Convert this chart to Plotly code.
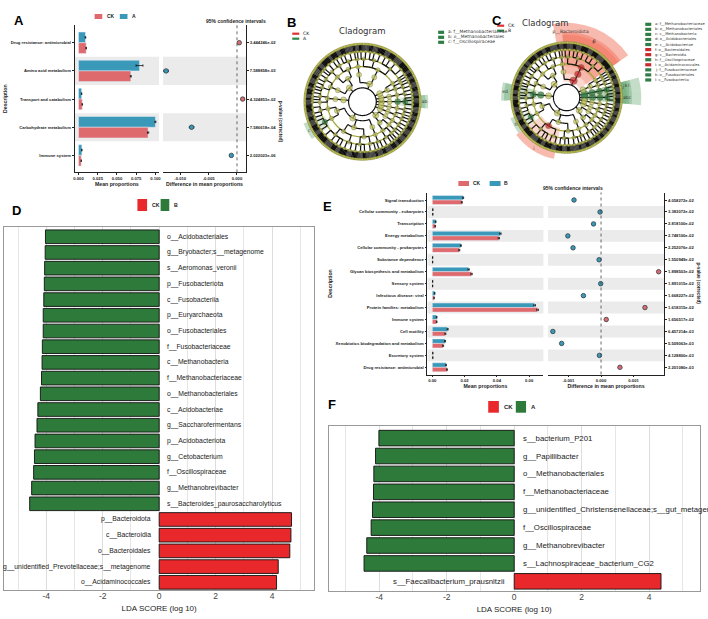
import numpy as np
import plotly.graph_objects as go

W, H = 708, 619

RED_S, BLUE_S = "#DE6A6E", "#3A99B8"      # STAMP colours
RED_L, GREEN_L = "#E8282B", "#2E7A3A"     # LEfSe bar colours

# ---------------- A: STAMP, CK vs A ----------------
a_desc = ["Drug resistance: antimicrobial", "Amino acid metabolism", "Transport and catabolism",
          "Carbohydrate metabolism", "Immune system"]
a_ck = [0.0099, 0.0680, 0.0048, 0.0905, 0.0035]
a_a = [0.0090, 0.0793, 0.0040, 0.1000, 0.0043]
a_ck_err = [0.0004, 0.0006, 0.0003, 0.0008, 0.0002]
a_a_err = [0.0004, 0.0045, 0.0003, 0.0006, 0.0003]
a_diff = [0.0004, -0.0125, 0.0010, -0.0080, -0.0010]
a_diff_ci = [0.0002, 0.0004, 0.0002, 0.0004, 0.0002]
a_pval = ["3.444246e-02", "7.588858e-03", "4.324853e-02", "7.586618e-04", "2.022023e-06"]

# ---------------- E: STAMP, CK vs B ----------------
e_desc = ["Signal transduction", "Cellular community - eukaryotes", "Transcription", "Energy metabolism",
          "Cellular community - prokaryotes", "Substance dependence", "Glycan biosynthesis and metabolism",
          "Sensory system", "Infectious disease: viral", "Protein families: metabolism", "Immune system",
          "Cell motility", "Xenobiotics biodegradation and metabolism", "Excretory system",
          "Drug resistance: antimicrobial"]
e_ck = [0.0183, 0.0003, 0.0018, 0.0412, 0.0167, 0.0002, 0.0243, 0.0002, 0.0011, 0.0652,
        0.0027, 0.0081, 0.0067, 0.0003, 0.0091]
e_b = [0.0191, 0.0003, 0.0021, 0.0422, 0.0177, 0.0002, 0.0225, 0.0002, 0.0015, 0.0634,
       0.0027, 0.0095, 0.0079, 0.0003, 0.0085]
e_err = [0.0003, 0.0001, 0.0002, 0.0004, 0.0003, 0.0001, 0.0004, 0.0001, 0.0001, 0.0005,
         0.0002, 0.0003, 0.0003, 0.0001, 0.0002]
e_diff = [-0.00083, -0.00003, -0.00023, -0.00102, -0.00086, -0.00006, 0.00177, -0.00001, -0.00054,
          0.00135, 0.00016, -0.00148, -0.00121, -0.00005, 0.00058]
e_diff_ci = [0.00003, 0.00002, 0.00002, 0.00003, 0.00003, 0.00002, 0.00003, 0.00002, 0.00002,
             0.00003, 0.00002, 0.00003, 0.00003, 0.00002, 0.00002]
e_pval = ["4.058272e-02", "3.383072e-02", "2.818100e-02", "2.748100e-02", "2.252076e-02",
          "1.550949e-02", "1.898503e-02", "1.891015e-02", "1.668227e-02", "1.618315e-02",
          "1.656517e-02", "6.457214e-03", "5.509063e-03", "4.128800e-03", "2.201080e-03"]

# ---------------- D: LEfSe CK vs B ----------------
d_taxa = ["o__Acidobacteriales", "g__Bryobacter;s__metagenome", "s__Aeromonas_veronii",
          "p__Fusobacteriota", "c__Fusobacteriia", "p__Euryarchaeota", "o__Fusobacteriales",
          "f__Fusobacteriaceae", "c__Methanobacteria", "f__Methanobacteriaceae",
          "o__Methanobacteriales", "c__Acidobacteriae", "g__Saccharofermentans",
          "p__Acidobacteriota", "g__Cetobacterium", "f__Oscillospiraceae", "g__Methanobrevibacter",
          "s__Bacteroides_paurosaccharolyticus", "p__Bacteroidota", "c__Bacteroidia",
          "o__Bacteroidales", "g__unidentified_Prevotellaceae;s__metagenome", "o__Acidaminococcales"]
d_lda = [-4.03, -4.04, -4.06, -4.07, -4.09, -4.11, -4.11, -4.14, -4.15, -4.17, -4.21, -4.30,
         -4.33, -4.40, -4.42, -4.45, -4.52, -4.59, 4.69, 4.67, 4.63, 4.22, 4.16]

# ---------------- F: LEfSe CK vs A ----------------
f_taxa = ["s__bacterium_P201", "g__Papillibacter", "o__Methanobacteriales", "f__Methanobacteriaceae",
          "g__unidentified_Christensenellaceae;s__gut_metagenome", "f__Oscillospiraceae",
          "g__Methanobrevibacter", "s__Lachnospiraceae_bacterium_CG2", "s__Faecalibacterium_prausnitzii"]
f_lda = [-4.01, -4.11, -4.16, -4.17, -4.20, -4.24, -4.37, -4.45, 4.35]

# ---------------- B / C: cladogram tree (phylum > class > order > family > genus leaf counts) ----
tree = [
    ("Euryarchaeota", [[[[4, 3, 2]]]]),
    ("Fusobacteriota", [[[[4, 3]]]]),
    ("Desulfobacterota", [[[[4, 3], [2]], [[3, 2]]]]),
    ("Bacteroidota", [[[[8, 6, 5, 4], [6, 4, 3], [5, 3]]], [[[3, 2]]]]),
    ("Proteobacteria", [[[[6, 4, 3], [5, 2]], [[7, 3, 2]]], [[[5, 3], [4, 3, 2]]]]),
    ("Acidobacteriota", [[[[4, 3, 2], [3]]]]),
    ("Firmicutes", [[[[6, 4, 3]], [[4, 5, 3]]], [[[8, 6, 4, 3], [6, 4]], [[5, 4, 3], [7, 2]]], [[[4, 3]]]]),
    ("Actinobacteriota", [[[[5, 4, 2], [3]], [[4, 2]]], [[[4, 3]]]]),
    ("Spirochaetota", [[[[4, 2], [3]]]]),
    ("Verrucomicrobiota", [[[[3, 4]]]]),
]
b_marks = [(("Euryarchaeota", 0, 0, 0), "f__Methanobacteriaceae", "A"),
           (("Euryarchaeota", 0, 0), "o__Methanobacteriales", "A"),
           (("Firmicutes", 0, 1, 0), "f__Oscillospiraceae", "A")]
c_marks = [(("Euryarchaeota", 0, 0, 0), "f__Methanobacteriaceae", "B"),
           (("Euryarchaeota", 0, 0), "o__Methanobacteriales", "B"),
           (("Euryarchaeota", 0), "c__Methanobacteria", "B"),
           (("Acidobacteriota", 0, 0), "o__Acidobacteriales", "B"),
           (("Acidobacteriota", 0), "c__Acidobacteriae", "B"),
           (("Bacteroidota", 0, 0), "o__Bacteroidales", "CK"),
           (("Bacteroidota", 0), "c__Bacteroidia", "CK"),
           (("Firmicutes", 0, 1, 0), "f__Oscillospiraceae", "B"),
           (("Firmicutes", 1, 0), "o__Acidaminococcales", "CK"),
           (("Fusobacteriota", 0, 0, 0), "f__Fusobacteriaceae", "B"),
           (("Fusobacteriota", 0, 0), "o__Fusobacteriales", "B"),
           (("Fusobacteriota", 0), "c__Fusobacteriia", "B"),
           (("Bacteroidota",), "p__Bacteroidota", "CK"),
           (("Euryarchaeota",), "p__Euryarchaeota", "B"),
           (("Fusobacteriota",), "p__Fusobacteriota", "B")]

STAMP_FONT = "Liberation Sans"
LFONT = "Liberation Sans"


def px(x):
    return x / W


def py(y):
    return 1 - y / H


fig = go.Figure()
shapes, annos = [], []


def stamp_panel(desc, g1, g1_err, g2, g2_err, diff, ci, g2_name, axn):
    xa, ya, xb, yb = axn
    fig.add_trace(go.Bar(y=desc, x=g2, orientation="h", marker_color=BLUE_S, name=g2_name,
                         error_x=dict(type="data", array=g2_err, thickness=0.7, width=1.2, color="black"),
                         xaxis=xa, yaxis=ya, showlegend=False))
    fig.add_trace(go.Bar(y=desc, x=g1, orientation="h", marker_color=RED_S, name="CK",
                         error_x=dict(type="data", array=g1_err, thickness=0.7, width=1.2, color="black"),
                         xaxis=xa, yaxis=ya, showlegend=False))
    cols = [RED_S if d > 0 else BLUE_S for d in diff]
    fig.add_trace(go.Scatter(x=diff, y=desc, mode="markers", xaxis=xb, yaxis=yb, showlegend=False,
                             marker=dict(color=cols, size=4.5, line=dict(color="#2f3f45", width=0.8)),
                             error_x=dict(type="data", array=ci, thickness=0.7, width=1.2, color="black")))
    for i in range(len(desc)):
        if i % 2 == 1:
            for ax, ay in ((xa, ya), (xb, yb)):
                shapes.append(dict(type="rect", xref=ax + " domain", yref=ay, x0=0, x1=1,
                                   y0=i - 0.5, y1=i + 0.5, fillcolor="#EBEBEB", line_width=0,
                                   layer="below"))
    shapes.append(dict(type="line", xref=xb, yref=yb + " domain", x0=0, x1=0, y0=0, y1=1,
                       line=dict(color="#444", width=0.8, dash="dot")))


stamp_panel(a_desc, a_ck, a_ck_err, a_a, a_a_err, a_diff, a_diff_ci, "A", ("x", "y", "x2", "y2"))
stamp_panel(e_desc, e_ck, e_err, e_b, e_err, e_diff, e_diff_ci, "B", ("x3", "y3", "x4", "y4"))


def lda_panel(taxa, lda, xa, ya, size):
    cols = [RED_L if v > 0 else GREEN_L for v in lda]
    fig.add_trace(go.Bar(y=taxa, x=lda, orientation="h", width=0.87, xaxis=xa, yaxis=ya,
                         marker=dict(color=cols, line=dict(color="#111", width=0.9)), showlegend=False))
    for i, (t, v) in enumerate(zip(taxa, lda)):
        annos.append(dict(text=t, xref=xa, yref=ya, x=0.21 if v < 0 else -0.21, y=i,
                          xanchor="left" if v < 0 else "right", yanchor="middle", showarrow=False,
                          font=dict(family=LFONT, size=size, color="#222")))


lda_panel(d_taxa, d_lda, "x5", "y5", 6.8)
lda_panel(f_taxa, f_lda, "x6", "y6", 7.8)

# ---------------- cladograms ----------------
LEVEL_R = [0.33, 0.47, 0.61, 0.74, 0.87]
R_ROOT, R_OUT = 0.24, 1.0
START = -6.0
OLIVE_NODE, OLIVE_RING = "#C6CA5E", "#A4A63A"
GRP_COL = {"CK": "#C8282E", "A": "#2F7D45", "B": "#2F7D45"}
GRP_IN = {"CK": "rgba(242,118,95,0.30)", "A": "rgba(100,165,110,0.22)", "B": "rgba(100,165,110,0.22)"}
GRP_OUT = {"CK": "rgba(242,118,95,0.50)", "A": "rgba(100,165,110,0.38)", "B": "rgba(100,165,110,0.38)"}


def count_leaves(sub, level):
    return sub if level == 4 else sum(count_leaves(c, level + 1) for c in sub)


def layout_tree(tr):
    total = sum(count_leaves(s, 0) for _, s in tr)
    step = 360.0 / total
    nodes = {}
    pos = [0]

    def walk(sub, path, level):
        lo = pos[0]
        if level == 4:
            kids = [START + (pos[0] + k + 0.5) * step for k in range(sub)]
            pos[0] += sub
        else:
            kids = [walk(c, path + (j,), level + 1) for j, c in enumerate(sub)]
        hi = pos[0]
        th = START + (lo + hi) / 2 * step
        nodes[path] = dict(level=level, theta=th, lo=START + lo * step, hi=START + hi * step, kids=kids)
        return th

    roots = [walk(s, (name,), 0) for name, s in tr]
    return nodes, roots


def arc(r, a0, a1):
    n = max(2, int(abs(a1 - a0) / 2) + 2)
    t = np.linspace(a0, a1, n)
    return list(np.full(n, r)), list(t)


def cladogram(polar, marks):
    nodes, roots = layout_tree(tree)
    letters = "abcdefghijklmnopqrstuvwxyz"
    k = 0
    texts_r, texts_t, texts_s = [], [], []
    legend_items = []
    # shaded clades: faint inside the tree, stronger outside the outer ring
    for path, name, grp in marks:
        nd = nodes[path]
        lvl = nd["level"]
        top = 1.36 if lvl == 0 else 1.04 + 0.05 * (3 - lvl) + 0.05
        base = LEVEL_R[lvl] - 0.04
        span = nd["hi"] - nd["lo"]
        fig.add_trace(go.Barpolar(r=[R_OUT - base], base=[base], theta=[nd["theta"]], width=[span],
                                  subplot=polar, showlegend=False,
                                  marker=dict(color=GRP_IN[grp], line_width=0)))
        fig.add_trace(go.Barpolar(r=[top - R_OUT], base=[R_OUT], theta=[nd["theta"]], width=[span],
                                  subplot=polar, showlegend=False,
                                  marker=dict(color=GRP_OUT[grp], line_width=0)))
        if lvl == 0:
            if name == "p__Bacteroidota":
                texts_r.append(1.2); texts_t.append(nd["hi"] - 14); texts_s.append(name)
        else:
            texts_r.append(top - 0.04); texts_t.append(nd["theta"]); texts_s.append(letters[k])
            legend_items.append((letters[k] + ": " + name, grp))
            k += 1
    # leaf spokes, alternating shades per genus
    leaf_r, leaf_t = [], []
    for shade in (0, 1):
        rr, tt = [], []
        j = 0
        for path, nd in nodes.items():
            if nd["level"] == 4:
                if j % 2 == shade:
                    for a in nd["kids"]:
                        rr += [LEVEL_R[4], R_OUT, None]
                        tt += [a, a, None]
                        leaf_r.append(R_OUT); leaf_t.append(a)
                j += 1
        fig.add_trace(go.Scatterpolar(r=rr, theta=tt, mode="lines", subplot=polar, showlegend=False,
                                      line=dict(color="#0e0e0e" if shade == 0 else "#444444", width=1.6),
                                      hoverinfo="skip"))
    # olive rings
    for r in LEVEL_R[2:] + [R_OUT]:
        cr, ct = arc(r, 0, 360)
        fig.add_trace(go.Scatterpolar(r=cr, theta=ct, mode="lines", subplot=polar, showlegend=False,
                                      line=dict(color=OLIVE_RING, width=1.3), hoverinfo="skip"))
    # black branches
    rr, tt = [], []
    cr, ct = arc(R_ROOT, 0, 360)
    rr += cr + [None]; tt += ct + [None]
    for a in roots:
        rr += [R_ROOT, LEVEL_R[0], None]; tt += [a, a, None]
    for path, nd in nodes.items():
        lvl = nd["level"]
        if lvl == 4:
            continue
        kids = nd["kids"]
        if len(kids) > 1:
            cr, ct = arc(LEVEL_R[lvl], min(kids), max(kids))
            rr += cr + [None]; tt += ct + [None]
        for a in kids:
            rr += [LEVEL_R[lvl], LEVEL_R[lvl + 1], None]; tt += [a, a, None]
    fig.add_trace(go.Scatterpolar(r=rr, theta=tt, mode="lines", subplot=polar, showlegend=False,
                                  line=dict(color="#111", width=1.2), hoverinfo="skip"))
    # species tips
    fig.add_trace(go.Scatterpolar(r=leaf_r, theta=leaf_t, mode="markers", subplot=polar, showlegend=False,
                                  marker=dict(color=OLIVE_NODE, size=2.2, line=dict(color="#6a6a2a", width=0.3)),
                                  hoverinfo="skip"))
    # clade nodes
    hl = {p: g for p, _, g in marks}
    sizes = [6, 5, 4.4, 3.8, 3.0]
    nr, nt, nc, ns = [], [], [], []
    for path, nd in nodes.items():
        nr.append(LEVEL_R[nd["level"]]); nt.append(nd["theta"])
        if path in hl:
            nc.append(GRP_COL[hl[path]]); ns.append(sizes[nd["level"]] + 1.5)
        else:
            nc.append(OLIVE_NODE); ns.append(sizes[nd["level"]])
    fig.add_trace(go.Scatterpolar(r=nr, theta=nt, mode="markers", subplot=polar, showlegend=False,
                                  marker=dict(color=nc, size=ns, line=dict(color="#4a4a1e", width=0.5))))
    fig.add_trace(go.Scatterpolar(r=texts_r, theta=texts_t, mode="text", text=texts_s, subplot=polar,
                                  showlegend=False, textfont=dict(size=4.5, color="#333",
                                                                  family="DejaVu Sans")))
    return legend_items


b_items = cladogram("polar", b_marks)
c_items = cladogram("polar2", c_marks)


def clado_legends(items, sx, sy, step, left_xy, g2, size):
    for i, (txt, grp) in enumerate(items):
        y = sy + i * step
        shapes.append(dict(type="rect", xref="paper", yref="paper", x0=px(sx), x1=px(sx + 6),
                           y0=py(y + 1.6), y1=py(y - 1.6), fillcolor=GRP_COL[grp], line_width=0))
        annos.append(dict(text=txt, xref="paper", yref="paper", x=px(sx + 8), y=py(y), xanchor="left",
                          yanchor="middle", showarrow=False, font=dict(family="DejaVu Sans", size=size,
                                                                     color="#333")))
    lx, ly = left_xy
    for i, (g, col) in enumerate((("CK", "#E03030"), (g2, "#2F8A4A"))):
        y = ly + i * 5
        shapes.append(dict(type="line", xref="paper", yref="paper", x0=px(lx), x1=px(lx + 7), y0=py(y),
                           y1=py(y), line=dict(color=col, width=2.2)))
        annos.append(dict(text=g, xref="paper", yref="paper", x=px(lx + 8.5), y=py(y), xanchor="left",
                          yanchor="middle", showarrow=False, font=dict(family="DejaVu Sans", size=4.6,
                                                                     color="#222")))


clado_legends(b_items, 439, 32.3, 5.0, (292.5, 33.7), "A", 4.4)
clado_legends(c_items, 647, 24.3, 5.06, (498.3, 25.7), "B", 3.7)

for x, y in ((363, 24), (571, 16)):
    annos.append(dict(text="Cladogram", xref="paper", yref="paper", x=px(x), y=py(y), showarrow=False,
                      font=dict(family="DejaVu Sans", size=8.5, color="#333")))


# ---------------- legends for STAMP and LEfSe panels ----------------
def box_legend(entries, y0, y1, bold_size):
    for x0, x1, col, tx, lab in entries:
        shapes.append(dict(type="rect", xref="paper", yref="paper", x0=px(x0), x1=px(x1), y0=py(y1),
                           y1=py(y0), fillcolor=col, line_width=0))
        annos.append(dict(text="<b>%s</b>" % lab, xref="paper", yref="paper", x=px(tx), y=py((y0 + y1) / 2),
                          xanchor="left", yanchor="middle", showarrow=False,
                          font=dict(family=STAMP_FONT, size=bold_size, color="#222")))


box_legend([(94, 101.7, RED_S, 104.5, "CK"), (119.3, 127, BLUE_S, 129.5, "A")], 14, 19, 5)
box_legend([(459.3, 470, RED_S, 471.7, "CK"), (490.7, 501.7, BLUE_S, 503.3, "B")], 181, 186, 5)
box_legend([(137, 146.7, RED_L, 149.3, "CK"), (160.3, 169, GREEN_L, 171.5, "B")], 199, 211, 5.2)
box_legend([(489.3, 500, RED_L, 503.5, "CK"), (517, 527.3, GREEN_L, 530.5, "A")], 401, 412.7, 6)

for x, y in ((204, 16), (607, 183.5)):
    annos.append(dict(text="<b>95% confidence intervals</b>", xref="paper", yref="paper", x=px(x), y=py(y),
                      showarrow=False, font=dict(family=STAMP_FONT, size=5, color="#222")))
for x, y in ((281, 98.5), (705, 283)):
    annos.append(dict(text="<b>p-value (corrected)</b>", xref="paper", yref="paper", x=px(x), y=py(y),
                      textangle=90, showarrow=False, font=dict(family=STAMP_FONT, size=4.6, color="#222")))

for lab, x, y in (("A", 11, 11), ("B", 292, 13), ("C", 505, 11.5), ("D", 9, 211), ("E", 327.5, 197),
                  ("F", 332.5, 404)):
    annos.append(dict(text="<b>%s</b>" % lab, xref="paper", yref="paper", x=px(x), y=py(y), showarrow=False,
                      font=dict(family=STAMP_FONT, size=13, color="black")))

# ---------------- axes ----------------
sfont = dict(family=STAMP_FONT, size=4.2, color="#222", weight="bold")
tfont = dict(family=STAMP_FONT, size=5.2, color="#222", weight="bold")
common = dict(showline=True, linecolor="#222", linewidth=0.8, ticks="outside", ticklen=2, tickwidth=0.7,
              tickcolor="#222", showgrid=False, zeroline=False, tickfont=sfont)


def ycat(desc, dom, anchor, side="left", ticktext=None, title=None):
    d = dict(common, domain=dom, anchor=anchor, type="category", categoryarray=desc,
             range=[len(desc) - 0.4, -0.63], side=side)
    if ticktext:
        d.update(tickmode="array", tickvals=desc, ticktext=ticktext)
    if title:
        d.update(title=dict(text=title, font=tfont, standoff=2))
    return d


a_ydom = [py(172.3), py(25)]
e_ydom = [py(374.5), py(192.5)]

lda_x = dict(range=[-5.5, 5.5], tickmode="array", tickvals=[-4, -2, 0, 2, 4],
             ticktext=["-4", "-2", "0", "2", "4"], showgrid=True, gridcolor="#DDDDDD", gridwidth=0.8,
             minor=dict(dtick=1, tick0=0, showgrid=True, gridcolor="#E6E6E6", gridwidth=0.8),
             zeroline=False, showline=True, mirror=True, linecolor="#999", linewidth=1, ticks="",
             ticklabelstandoff=-2,
             tickfont=dict(family=LFONT, size=8.5, color="#444"),
             title=dict(text="LDA SCORE (log 10)", font=dict(family=LFONT, size=8, color="#222"),
                        standoff=5))
lda_y = dict(type="category", showticklabels=False, ticks="", showgrid=False, zeroline=False,
             showline=True, mirror=True, linecolor="#999", linewidth=1)

fig.update_layout(
    width=W, height=H, margin=dict(l=0, r=0, t=0, b=0), paper_bgcolor="white", plot_bgcolor="white",
    barmode="group", bargap=0.24, bargroupgap=0, showlegend=False,
    xaxis=dict(common, domain=[px(74), px(158.7)], anchor="y", range=[-0.005, 0.1047], tickmode="array",
               tickvals=[0, 0.025, 0.05, 0.075, 0.1], ticktext=["0.000", "0.025", "0.050", "0.075", "0.100"],
               title=dict(text="Mean proportions", font=tfont, standoff=1)),
    yaxis=ycat(a_desc, a_ydom, "x", title="Description"),
    xaxis2=dict(common, domain=[px(162.7), px(246)], anchor="y2", range=[-0.01304, 0.00158],
                tickmode="array", tickvals=[-0.01, -0.005, 0], ticktext=["-0.010", "-0.005", "0.000"],
                title=dict(text="Difference in mean proportions", font=tfont, standoff=1)),
    yaxis2=ycat(a_desc, a_ydom, "x2", side="right", ticktext=a_pval),
    xaxis3=dict(common, domain=[px(428.3), px(544.7)], anchor="y3", range=[-0.003, 0.0688],
                tickmode="array", tickvals=[0, 0.02, 0.04, 0.06], ticktext=["0.00", "0.02", "0.04", "0.06"],
                title=dict(text="Mean proportions", font=tfont, standoff=1)),
    yaxis3=ycat(e_desc, e_ydom, "x3", title="Description"),
    xaxis4=dict(common, domain=[px(549.3), px(666)], anchor="y4", range=[-0.00163, 0.00194],
                tickmode="array", tickvals=[-0.001, 0, 0.001], ticktext=["-0.001", "0.000", "0.001"],
                title=dict(text="Difference in mean proportions", font=tfont, standoff=1)),
    yaxis4=ycat(e_desc, e_ydom, "x4", side="right", ticktext=e_pval),
    xaxis5=dict(lda_x, domain=[px(3), px(314.7)], anchor="y5"),
    yaxis5=dict(lda_y, domain=[py(590), py(226.7)], anchor="x5", categoryarray=d_taxa,
                range=[len(d_taxa) - 0.51, -0.64]),
    xaxis6=dict(lda_x, domain=[px(329), px(701.8)], anchor="y6"),
    yaxis6=dict(lda_y, domain=[py(591), py(426.3)], anchor="x6", categoryarray=f_taxa,
                range=[len(f_taxa) - 0.46, -0.66]),
    polar=dict(domain=dict(x=[px(279), px(447)], y=[py(185.7), py(17.7)]), bgcolor="rgba(0,0,0,0)",
               radialaxis=dict(visible=False, range=[0, 1.45]), angularaxis=dict(visible=False)),
    polar2=dict(domain=dict(x=[px(488), px(648)], y=[py(177.25), py(17.75)]), bgcolor="rgba(0,0,0,0)",
                radialaxis=dict(visible=False, range=[0, 1.45]), angularaxis=dict(visible=False)),
    shapes=shapes, annotations=annos,
)

# the page's default 8px body margin would shift the whole figure
fig.write_html("out.html", config={"displayModeBar": False},
               post_script="document.body.style.margin='0px';")
